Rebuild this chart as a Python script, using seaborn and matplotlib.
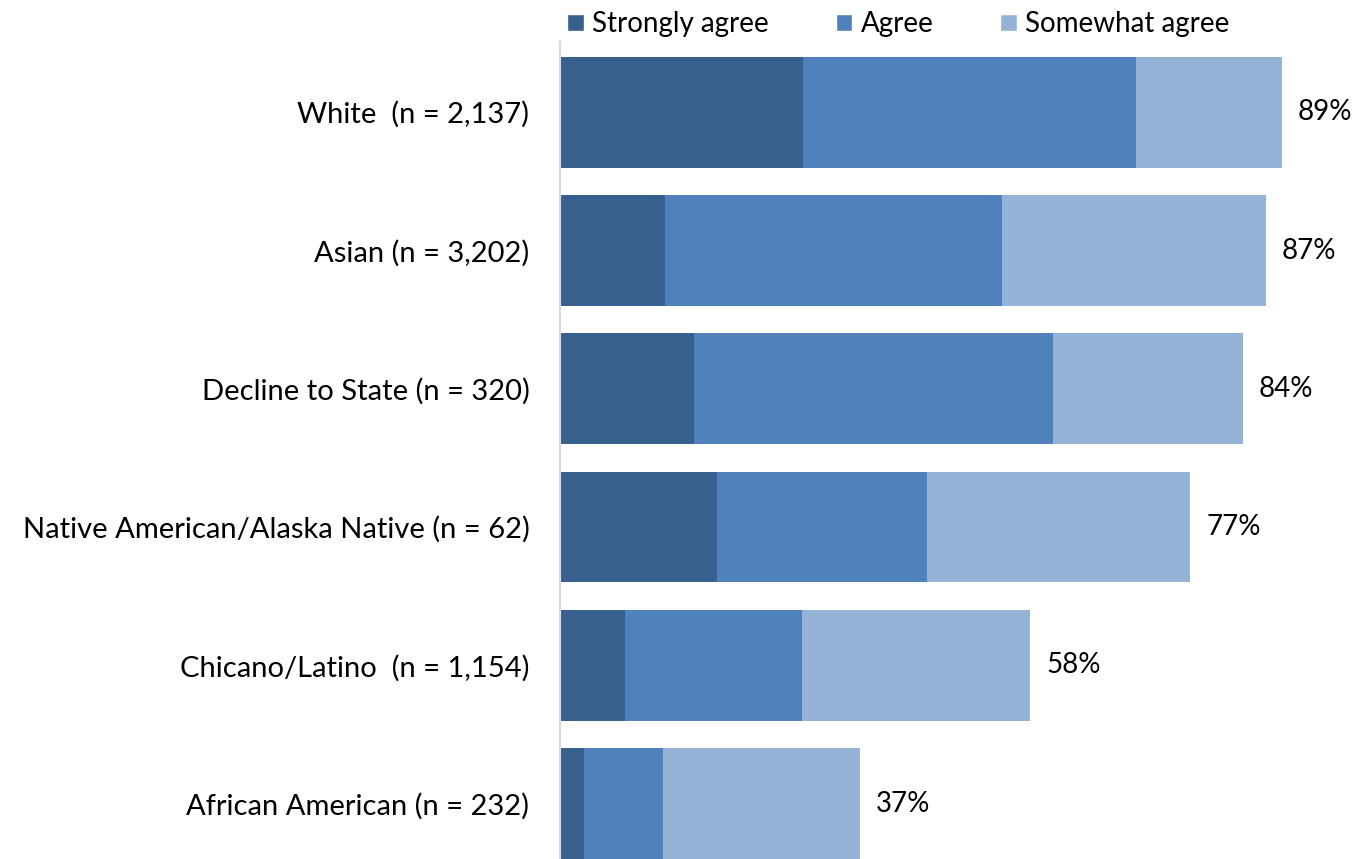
import numpy as np
import pandas as pd
import seaborn as sns
import matplotlib
matplotlib.use("Agg")
import matplotlib.pyplot as plt
from matplotlib.patches import Patch

# -------------------- data --------------------
groups = [
    "White  (n = 2,137)",
    "Asian (n = 3,202)",
    "Decline to State (n = 320)",
    "Native American/Alaska Native (n = 62)",
    "Chicano/Latino  (n = 1,154)",
    "African American (n = 232)",
]
strongly_agree = [30, 13, 16.5, 19.4, 8, 3]
agree = [41, 41.5, 44.3, 25.9, 21.8, 9.7]
somewhat_agree = [18, 32.5, 23.4, 32.4, 28.2, 24.3]
totals = [89, 87, 84, 77, 58, 37]

series_names = ["Strongly agree", "Agree", "Somewhat agree"]
colors = ["#37608f", "#4f81bd", "#95b3d7"]

df = pd.DataFrame({
    "group": groups,
    "strong": strongly_agree,
    "agree": agree,
    "somewhat": somewhat_agree,
})
# cumulative ends for stacking
df["c1"] = df["strong"]
df["c2"] = df["strong"] + df["agree"]
df["c3"] = df["c2"] + df["somewhat"]

# -------------------- plot --------------------
sns.set_style("white")
plt.rcParams["font.family"] = ["Lato", "DejaVu Sans"]
plt.rcParams["text.color"] = "black"
plt.rcParams["ytick.color"] = "black"

fig = plt.figure(figsize=(13.54, 8.59), dpi=100)
ax = fig.add_axes([0.4136, 0.0, 0.5864, 0.951])

# draw from longest to shortest so they stack visually
for col, c in zip(["c3", "c2", "c1"], colors[::-1]):
    sns.barplot(data=df, x=col, y="group", order=groups, color=c,
                width=0.8, linewidth=0, saturation=1, ax=ax)

for i, t in enumerate(totals):
    ax.text(df["c3"][i] + 2.0, i, f"{t}%", va="center", ha="left", fontsize=20)

ax.set_xlim(0, 794 / 8.11)
ax.set_ylim(5.4, -0.507)
ax.set_xlabel("")
ax.set_ylabel("")
ax.set_xticks([])
ax.tick_params(axis="y", length=0, pad=22, labelsize=21)
for s in ["top", "right", "bottom"]:
    ax.spines[s].set_visible(False)
ax.spines["left"].set_color("#d9d9d9")
ax.spines["left"].set_linewidth(1.5)

handles = [Patch(facecolor=c, label=n) for c, n in zip(colors, series_names)]
fig.legend(handles=handles, loc="upper left", bbox_to_anchor=(0.4005, 1.016),
           ncol=3, frameon=False, fontsize=20, handlelength=0.6,
           handleheight=0.6, handletextpad=0.3, columnspacing=2.4)

plt.savefig("out.png", dpi=100)
